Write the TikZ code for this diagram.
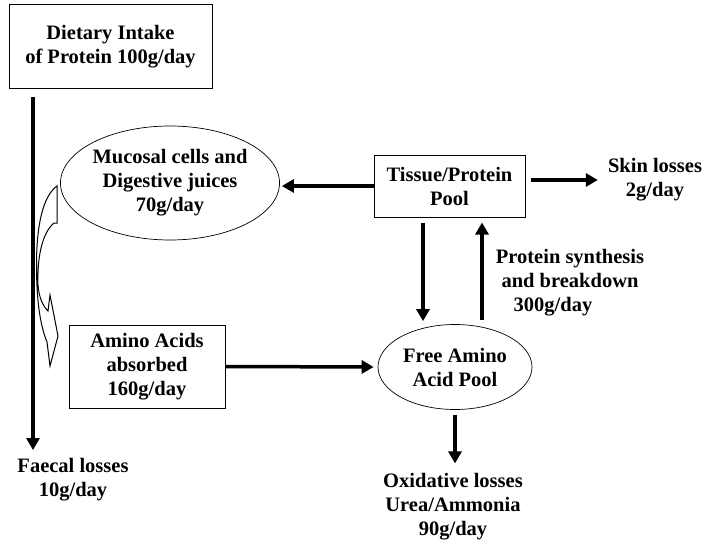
\documentclass[tikz,border=0pt]{standalone}
\usepackage{fontspec}
\setmainfont{Liberation Serif}
\usetikzlibrary{arrows.meta,shapes.geometric}

\tikzset{%
  every box/.style={
    rectangle,
    draw,
    line width=1pt,
    align=center,
    inner sep=0pt
  },
  every pool/.style={
    ellipse,
    draw,
    line width=0.7pt,
    align=center,
    inner sep=0pt
  },
  loss text/.style={
    align=center,
    inner sep=0pt
  },
  flow/.style={
    line width=3.5pt,
    -{Triangle[length=12pt,width=13pt]}
  },
}

\begin{document}
\begin{tikzpicture}[x=1pt, y=-1pt, font=\fontsize{20.5}{24}\selectfont\bfseries]

\useasboundingbox (0,0) rectangle (703,543);

\node [every box, minimum width=203pt, minimum height=83pt] (intake) at (110.5,46.5)
  {Dietary Intake\\of Protein 100g/day};
\node [every pool, minimum width=216pt, minimum height=114pt] (mucosal) at (170,183)
  {Mucosal cells and\\Digestive juices\\70g/day};
\node [every box, minimum width=151pt, minimum height=62pt] (tissue) at (449.5,186)
  {Tissue/Protein\\Pool};
\node [loss text] (skin) at (655,180) {Skin losses\\2g/day};
\node [loss text] (synthesis) at (570,283)
  {Protein synthesis\\and breakdown\\300g/day\hspace*{34pt}};
\node [every box, minimum width=156pt, minimum height=83pt] (absorbed) at (147,366.5)
  {Amino Acids\\absorbed\\160g/day};
\node [every pool, minimum width=154pt, minimum height=85pt] (pool) at (455,367)
  {Free Amino\\Acid Pool};
\node [loss text] (oxidative) at (453,507) {Oxidative losses\\Urea/Ammonia\\90g/day};
\node [loss text] (faecal) at (73,480) {Faecal losses\\10g/day};

\coordinate (gut-in) at (33,97);
\coordinate (gut-out) at (33,450);

\draw [line width=1pt, fill=white]
  (57,186) -- (57,223) -- (54,223)
  .. controls (43,232) and (37,255) .. (38,285)
  .. controls (39,298) and (43,306) .. (48,311)
  -- (50,295) -- (58,336) -- (50,366) -- (47,342)
  .. controls (40,325) and (36.5,300) .. (36.5,265)
  .. controls (36.5,225) and (43,196) .. (57,186) -- cycle;

\draw [flow] (gut-in) -- (gut-out);

\draw [flow, shorten >=2pt] (tissue.west) -- (tissue.west -| mucosal.east);
\draw [flow, shorten <=5pt, shorten >=10pt] (tissue.east |- skin.west) -- (skin.west);
\draw [flow, shorten <=5pt, shorten >=3pt]
  ([xshift=-26.5pt]tissue.south) -- ([xshift=-26.5pt]tissue.south |- pool.north);
\draw [flow, shorten <=4.5pt, shorten >=5pt]
  ([xshift=32.5pt]tissue.south |- pool.north) -- ([xshift=32.5pt]tissue.south);
\draw [flow, shorten >=4pt] (absorbed.east) -- (pool.west);
\draw [flow, shorten <=5.5pt, shorten >=10pt] (pool.south) -- (pool.south |- oxidative.north);

\end{tikzpicture}
\end{document}
